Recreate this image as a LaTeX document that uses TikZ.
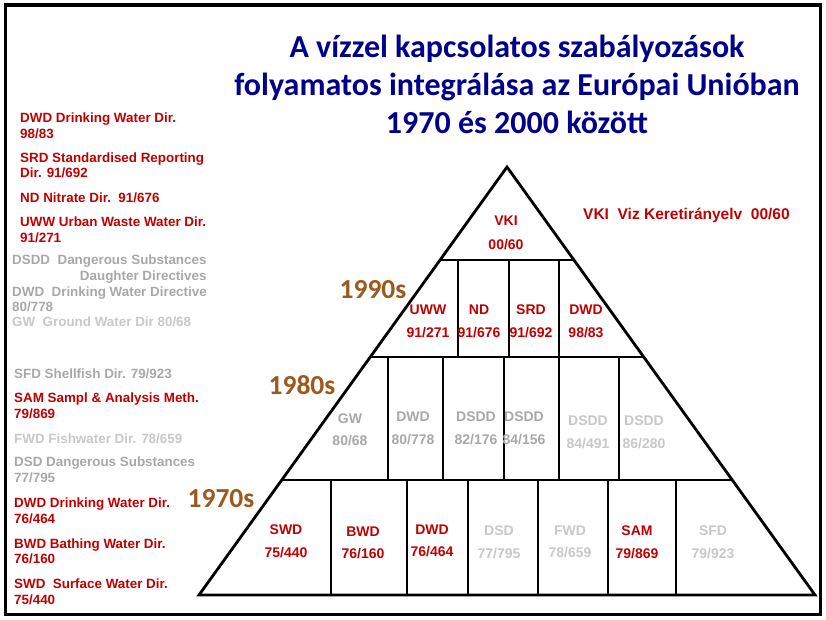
\documentclass[tikz,border=0pt]{standalone}
\usepackage{fontspec}
\setmainfont{Liberation Sans}
\newfontfamily\calfont{Carlito}
\definecolor{dirred}{RGB}{192,0,0}
\definecolor{decadebrown}{RGB}{158,88,28}
\definecolor{titleblue}{RGB}{0,0,140}
\definecolor{oldgrey}{RGB}{168,168,168}
\definecolor{palegrey}{RGB}{200,200,200}

\begin{document}
\begin{tikzpicture}[x=1pt, y=-1pt, pyramid/.style={line width=2.8pt, line join=miter}, tier/.style={line width=2.3pt},
    redtag/.style={text=dirred, font=\bfseries\fontsize{14}{22.5}\selectfont, align=center, inner sep=0pt},
    greytag/.style={redtag, text=oldgrey}, paletag/.style={redtag, text=palegrey},
    decade/.style={text=decadebrown, font=\calfont\bfseries\fontsize{27.5}{30}\selectfont, inner sep=0pt},
    listred/.style={text=dirred, font=\bfseries\fontsize{13.4}{15.5}\selectfont, align=left, anchor=west, inner sep=0pt},
    listgrey/.style={listred, text=oldgrey}, listpale/.style={listred, text=palegrey}]
    \useasboundingbox (0,0) rectangle (826,620);
    \draw[line width=3.5pt] (5.5,5) rectangle (820.5,614.5);
    %% Title
    \node[text=titleblue, font=\calfont\bfseries\fontsize{32}{38}\selectfont, align=center] (title) at (517,84.5)
    {A vízzel kapcsolatos szabályozások\\folyamatos integrálása az Európai Unióban\\1970 és 2000 között};
    %% Pyramid
    \coordinate (apex) at (507,167);
    \coordinate (bl) at (199,595);
    \coordinate (br) at (815,595);
    \draw[pyramid] (apex) -- (br) -- (bl) -- cycle;
    \path (apex) -- coordinate[pos=.2173](l1) coordinate[pos=.4439](l2) coordinate[pos=.7313](l3) (bl);
    \path (apex) -- coordinate[pos=.2173](r1) coordinate[pos=.4439](r2) coordinate[pos=.7313](r3) (br);
    \draw[tier] (l1) -- (r1) (l2) -- (r2) (l3) -- (r3);
    \draw[pyramid] (458,260) -- (458,357) (509,260) -- (509,357) (559,260) -- (559,357);
    \draw[pyramid] (388,357) -- (388,480) (443,357) -- (443,480) (504,357) -- (504,480) (559,357) -- (559,480) (619,357) -- (619,480);
    \draw[pyramid] (331,480) -- (331,595) (407,480) -- (407,595) (468,480) -- (468,595) (538,480) -- (538,595) (608,480) -- (608,595) (676,480) -- (676,595);
    %% Decades
    \node[decade] (d90) at (373,290) {1990s};
    \node[decade] (d80) at (302,385) {1980s};
    \node[decade] (d70) at (221,499) {1970s};
    %% Top
    \node[redtag, font=\bfseries\fontsize{14}{24}\selectfont] (vki) at (506,233) {VKI\\00/60};
    \node[redtag, font=\bfseries\fontsize{15.5}{17}\selectfont, anchor=west] (vkitext) at (583,215) {VKI~~Viz Keretirányelv~~00/60};
    %% 1990s
    \node[redtag] (uww) at (428,321.5) {UWW\\91/271};
    \node[redtag] (nd) at (479,321.5) {ND\\91/676};
    \node[redtag] (srd) at (531,321.5) {SRD\\91/692};
    \node[redtag] (dwdb) at (586,321.5) {DWD\\98/83};
    %% 1980s
    \node[greytag] (gw) at (350,429.5) {GW\\80/68};
    \node[greytag] (dwdc) at (413,428.5) {DWD\\80/778};
    \node[greytag] (dsdda) at (476,428) {DSDD\\82/176};
    \node[greytag] (dsddb) at (524,428) {DSDD\\84/156};
    \node[paletag] (dsddc) at (588,432) {DSDD\\84/491};
    \node[paletag] (dsddd) at (644,432) {DSDD\\86/280};
    %% 1970s
    \node[redtag] (swd) at (286,541) {SWD\\75/440};
    \node[redtag] (bwd) at (363,543) {BWD\\76/160};
    \node[redtag] (dwda) at (432,541) {DWD\\76/464};
    \node[paletag] (dsd) at (499,542) {DSD\\77/795};
    \node[paletag] (fwd) at (570,542) {FWD\\78/659};
    \node[redtag] (sam) at (637,542) {SAM\\79/869};
    \node[paletag] (sfd) at (713,542) {SFD\\79/923};
    %% Directive list
    \node[listred] (dwd98) at (20,126) {DWD Drinking Water Dir.\\98/83};
    \node[listred] (srd91) at (20,165.5) {SRD Standardised Reporting\\Dir. 91/692};
    \node[listred] (nd91) at (20,198) {ND Nitrate Dir.~~91/676};
    \node[listred] (uww91) at (20,230) {UWW Urban Waste Water Dir.\\91/271};
    \node[listgrey, align=right] (dsdd) at (12,269) {DSDD~~Dangerous Substances\\Daughter Directives~};
    \node[listgrey] (dwd80) at (12,299.5) {DWD~~Drinking Water Directive\\80/778};
    \node[listpale] (gw80) at (12,322) {GW~~Ground Water Dir 80/68};
    \node[listgrey] (sfd79) at (14,374) {SFD Shellfish Dir. 79/923};
    \node[listred] (sam79) at (14,406) {SAM Sampl \& Analysis Meth.\\79/869};
    \node[listpale] (fwd78) at (14,439) {FWD Fishwater Dir. 78/659};
    \node[listgrey] (dsd77) at (14,470) {DSD Dangerous Substances\\77/795};
    \node[listred] (dwd76) at (14,511) {DWD Drinking Water Dir.\\76/464};
    \node[listred] (bwd76) at (14,551.5) {BWD Bathing Water Dir.\\76/160};
    \node[listred] (swd75) at (14,592) {SWD~~Surface Water Dir.\\75/440};
\end{tikzpicture}
\end{document}
